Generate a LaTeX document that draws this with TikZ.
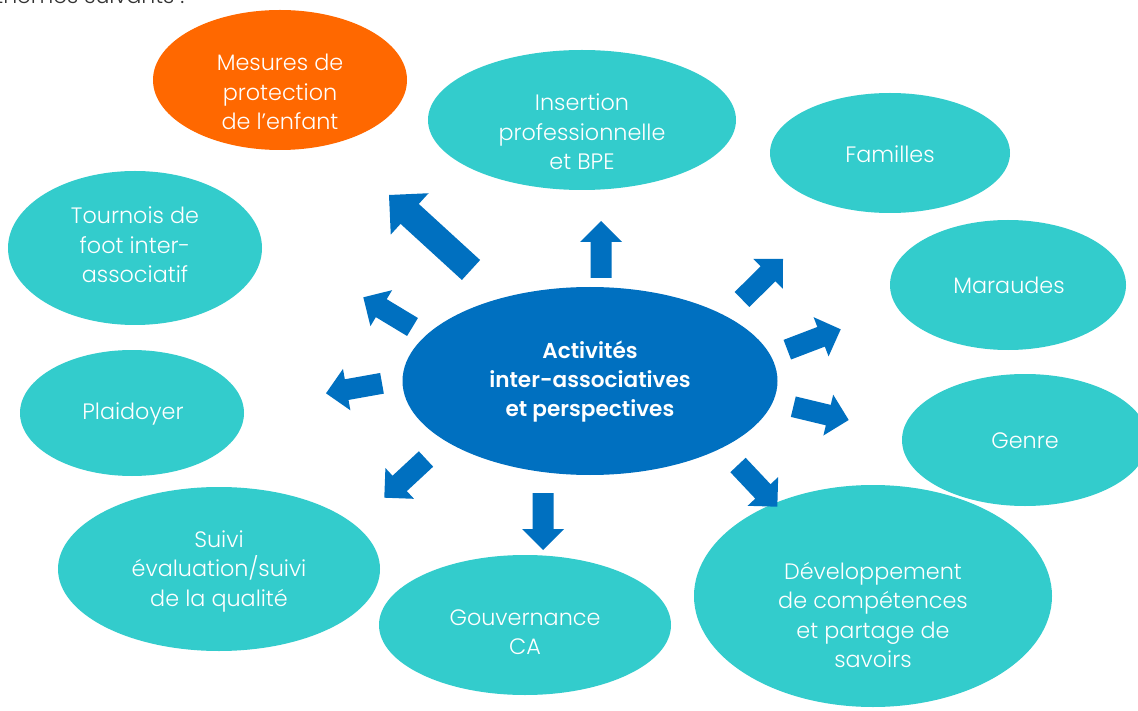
\documentclass[tikz,border=0pt]{standalone}
\usepackage{fontspec}
\setmainfont{Poppins}[UprightFont=* Light, BoldFont=* SemiBold]
\usetikzlibrary{shapes.geometric,calc}
\definecolor{bubbleteal}{RGB}{51,204,204}
\definecolor{bubbleorange}{RGB}{255,104,0}
\definecolor{arrowblue}{RGB}{0,112,192}
\tikzset{
  bubble/.style={ellipse,fill=bubbleteal,draw=none,inner sep=0pt},
  btext/.style={text=white,align=center,font=\fontsize{22.3}{29.5}\selectfont},
  ctext/.style={text=white,align=center,font=\bfseries\fontsize{21.6}{29}\selectfont},
}
\newcommand\blockarrow[5]{%
  \coordinate (#1-h) at ($(#2)!#5pt!(#1)$);
  \fill[arrowblue] ($(#1)!#3pt!90:(#2)$) -- ($(#1-h)!#3pt!-90:(#1)$) -- ($(#1-h)!#4pt!-90:(#1)$) -- (#2)
    -- ($(#1-h)!#4pt!90:(#1)$) -- ($(#1-h)!#3pt!90:(#1)$) -- ($(#1)!#3pt!-90:(#2)$) -- cycle;}
\begin{document}
\begin{tikzpicture}[x=1pt,y=-1pt]
\clip (0,0) rectangle (1138,711);
\fill[white] (0,0) rectangle (1138,711);
\node[anchor=base east,text=black!80,font=\fontsize{22}{26}\selectfont] (intro) at (188,4) {thèmes suivants :};
% bubbles
\node[bubble,fill=bubbleorange,minimum width=254,minimum height=140] (mes) at (280,80) {};
\node[bubble,minimum width=308,minimum height=140] (ins) at (582,120) {};
\node[bubble,minimum width=240,minimum height=120] (fam) at (890,153) {};
\node[bubble,minimum width=236,minimum height=130] (mar) at (1008,285) {};
\node[bubble,minimum width=246,minimum height=132] (gen) at (1025,440) {};
\node[bubble,minimum width=358,minimum height=222] (dev) at (873,596) {};
\node[bubble,minimum width=292,minimum height=140] (gou) at (525,625) {};
\node[bubble,minimum width=322,minimum height=164] (sui) at (219,569) {};
\node[bubble,minimum width=224,minimum height=126] (pla) at (132,413) {};
\node[bubble,minimum width=254,minimum height=154] (tou) at (135,248) {};
\node[bubble,fill=arrowblue,minimum width=375,minimum height=188] (cen) at (590,381) {};
% texts
\node[btext] (mesT) at (280,92) {Mesures de\\protection\\de l’enfant};
\node[btext] (insT) at (582,132) {Insertion\\professionnelle\\et BPE};
\node[btext] (famT) at (890,154) {Familles};
\node[btext] (marT) at (1009,285) {Maraudes};
\node[btext] (genT) at (1025,441) {Genre};
\node[btext] (devT) at (873,615) {Développement\\de compétences\\et partage de\\savoirs};
\node[btext] (gouT) at (525,632) {Gouvernance\\CA};
\node[btext] (suiT) at (219,571) {Suivi\\évaluation/suivi\\de la qualité};
\node[btext] (plaT) at (133,414) {Plaidoyer};
\node[btext] (touT) at (135,245) {Tournois de\\foot inter-\\associatif};
\node[ctext] (cenT) at (590,382) {Activités\\inter-associatives\\et perspectives};
% arrows
\coordinate (t1) at (471,270); \coordinate (p1) at (389,195);
\coordinate (t2) at (601,278); \coordinate (p2) at (601,221);
\coordinate (t3) at (742,299.5); \coordinate (p3) at (783,259);
\coordinate (t4) at (787.3,349.7); \coordinate (p4) at (840.7,329.3);
\coordinate (t5) at (793.3,406.7); \coordinate (p5) at (848.7,420);
\coordinate (t6) at (738,465); \coordinate (p6) at (777.3,506.7);
\coordinate (t7) at (543,493); \coordinate (p7) at (543,550);
\coordinate (t8) at (426,459); \coordinate (p8) at (384.3,497.7);
\coordinate (t9) at (382,383.3); \coordinate (p9) at (326,393.3);
\coordinate (t10) at (412.5,327); \coordinate (p10) at (363.3,297.3);
\blockarrow{t1}{p1}{13.5}{28}{28}
\foreach \i in {2,...,10} {\blockarrow{t\i}{p\i}{10.5}{21}{21}}
\end{tikzpicture}
\end{document}
